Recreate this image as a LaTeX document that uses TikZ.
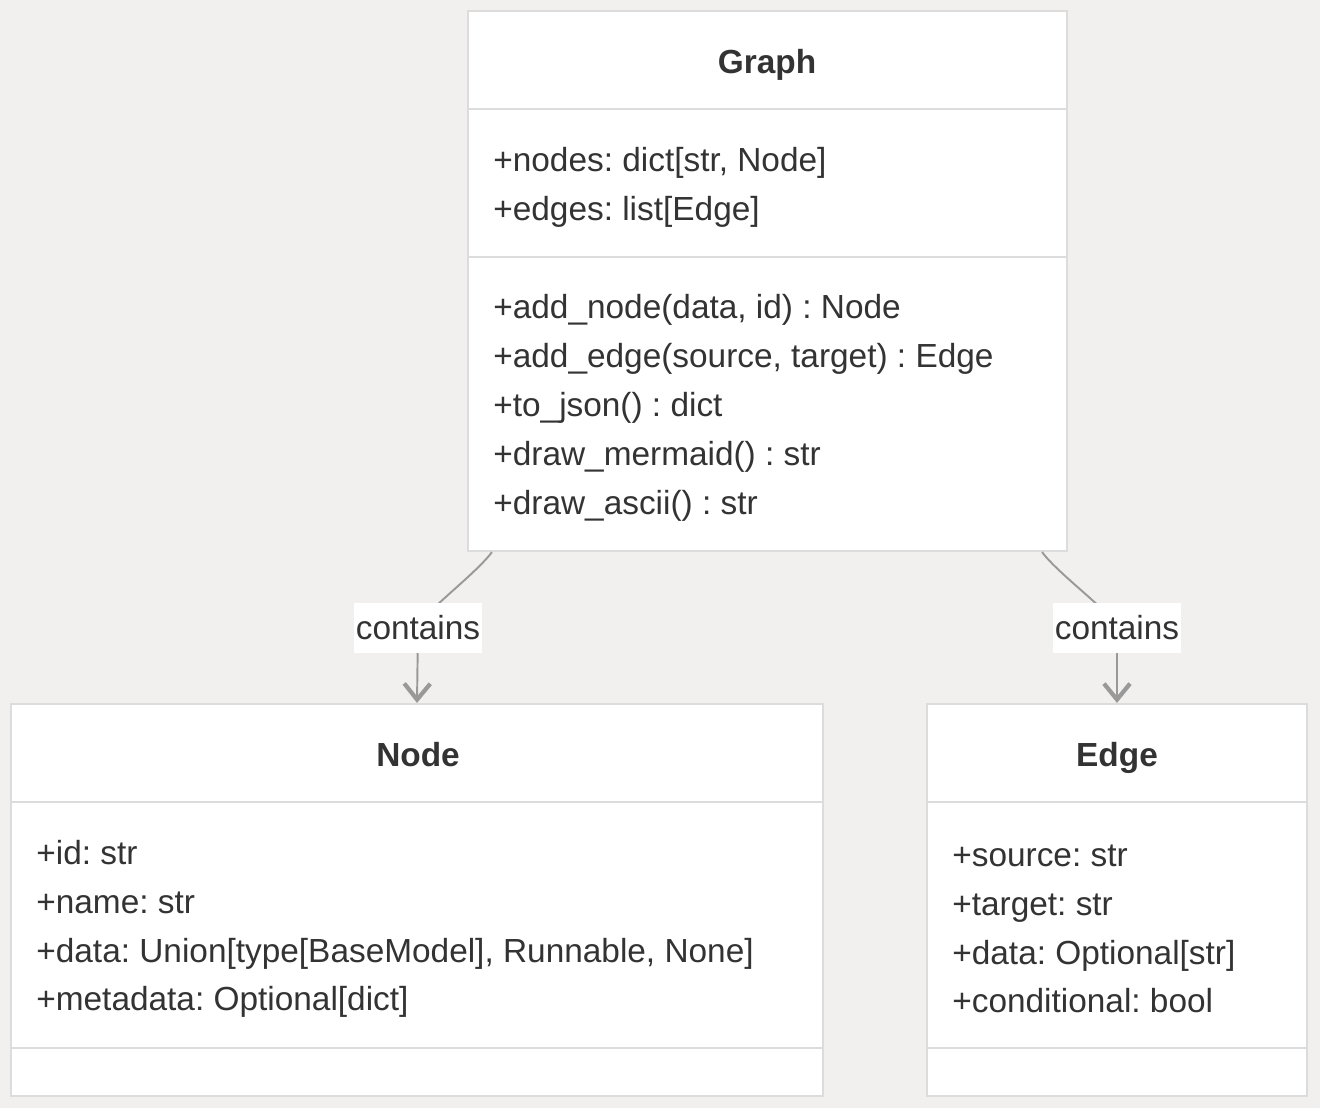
\documentclass[tikz,border=0pt]{standalone}
\usepackage{fontspec}
\setmainfont{Liberation Sans}
\usetikzlibrary{arrows.meta}

\definecolor{bgcol}{HTML}{F1F0EF}
\definecolor{boxline}{HTML}{DCDCDC}
\definecolor{txtcol}{HTML}{333333}
\definecolor{linkcol}{HTML}{999999}

\frenchspacing
\begin{document}
\begin{tikzpicture}[
  classbox/.style={draw=boxline,line width=1.2pt,fill=white,inner sep=0pt},
  divider/.style={draw=boxline,line width=1.2pt},
  title/.style={font=\fontsize{19}{22}\selectfont\bfseries,text=txtcol,anchor=base,inner sep=0pt},
  members/.style={font=\fontsize{19}{27.8}\selectfont,text=txtcol,align=left,anchor=west,inner sep=0pt},
  link/.style={draw=linkcol,line width=1.1pt,-{Straight Barb[length=3.2mm,width=5.2mm,line width=2.4pt]}},
  lbl/.style={fill=white,text=txtcol,font=\fontsize{19}{22}\selectfont,inner sep=1pt,minimum height=1cm}
]
\fill[bgcol] (0,0) rectangle (26.4,-22.16);
\useasboundingbox (0,0) rectangle (26.4,-22.16);

% class boxes
\node[classbox,minimum width=11.98cm,minimum height=10.8cm] (graph) at (15.35,-5.62) {};
\node[classbox,minimum width=16.24cm,minimum height=7.84cm] (nodecls) at (8.34,-18.0) {};
\node[classbox,minimum width=7.6cm,minimum height=7.84cm] (edgecls) at (22.34,-18.0) {};

% compartments
\draw[divider] (graph.west |- 0,-2.18) -- (graph.east |- 0,-2.18);
\draw[divider] (graph.west |- 0,-5.14) -- (graph.east |- 0,-5.14);
\draw[divider] (nodecls.west |- 0,-16.04) -- (nodecls.east |- 0,-16.04);
\draw[divider] (nodecls.west |- 0,-20.96) -- (nodecls.east |- 0,-20.96);
\draw[divider] (edgecls.west |- 0,-16.04) -- (edgecls.east |- 0,-16.04);
\draw[divider] (edgecls.west |- 0,-20.96) -- (edgecls.east |- 0,-20.96);

% titles
\node[title] (graphtitle) at (15.34,-1.46) {Graph};
\node[title] (nodetitle) at (8.36,-15.32) {Node};
\node[title] (edgetitle) at (22.34,-15.32) {Edge};

% members
\node[members] (graphattr) at (9.86,-3.74) {+nodes: dict[str, Node]\\
+edges: list[Edge]};
\node[members] (graphops) at (9.86,-8.16) {+add\_node(data, id) : Node\\
+add\_edge(source, target) : Edge\\
+to\_json() : dict\\
+draw\_mermaid() : str\\
+draw\_ascii() : str};
\node[members] (nodeattr) at (0.72,-18.58) {+id: str\\
+name: str\\
+data: Union[type[BaseModel], Runnable, None]\\
+metadata: Optional[dict]};
\node[members] (edgeattr) at (19.04,-18.58) {+source: str\\
+target: str\\
+data: Optional[str]\\
+conditional: bool};

% connectors
\coordinate (c1) at (8.36,-12.56);
\coordinate (c2) at (22.34,-12.56);
\draw[link] ([xshift=0.5cm]graph.south west) .. controls (9.5,-11.5) and (8.4,-12.3) .. (c1) -- (nodecls.north);
\draw[link] ([xshift=-0.52cm]graph.south east) .. controls (21.18,-11.5) and (22.3,-12.3) .. (c2) -- (edgecls.north);
\node[lbl] (lbl1) at (c1) {contains};
\node[lbl] (lbl2) at (c2) {contains};
\end{tikzpicture}
\end{document}
